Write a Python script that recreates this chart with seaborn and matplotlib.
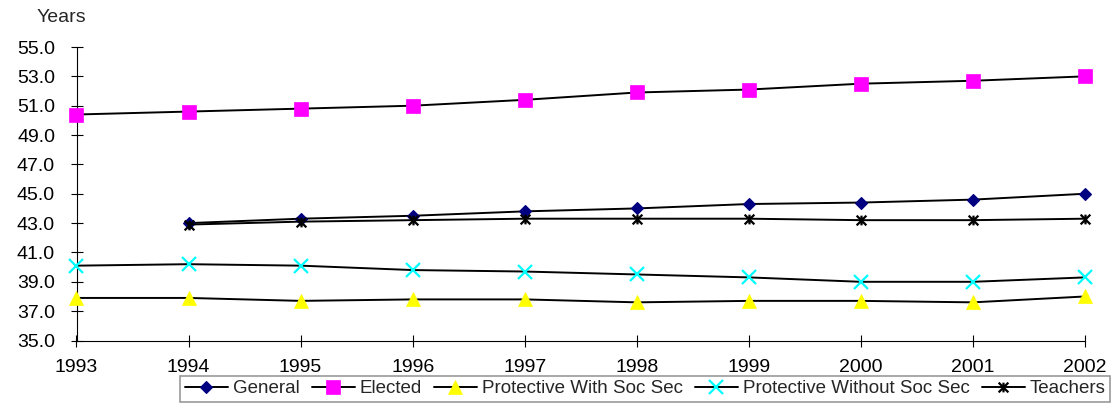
import numpy as np
import pandas as pd
import matplotlib
matplotlib.use("Agg")
import matplotlib.pyplot as plt
from matplotlib.path import Path
import seaborn as sns

years = [1993, 1994, 1995, 1996, 1997, 1998, 1999, 2000, 2001, 2002]
general = [np.nan, 43.0, 43.3, 43.5, 43.8, 44.0, 44.3, 44.4, 44.6, 45.0]
elected = [50.4, 50.6, 50.8, 51.0, 51.4, 51.9, 52.1, 52.5, 52.7, 53.0]
prot_with = [37.9, 37.9, 37.7, 37.8, 37.8, 37.6, 37.7, 37.7, 37.6, 38.0]
prot_without = [40.1, 40.2, 40.1, 39.8, 39.7, 39.5, 39.3, 39.0, 39.0, 39.3]
teachers = [np.nan, 42.9, 43.1, 43.2, 43.3, 43.3, 43.3, 43.2, 43.2, 43.3]
series_names = ["General", "Elected", "Protective With Soc Sec",
                "Protective Without Soc Sec", "Teachers"]
y_ticks = [35.0, 37.0, 39.0, 41.0, 43.0, 45.0, 47.0, 49.0, 51.0, 53.0, 55.0]

df = pd.DataFrame({"Year": years, "General": general, "Elected": elected,
                   "Protective With Soc Sec": prot_with,
                   "Protective Without Soc Sec": prot_without,
                   "Teachers": teachers})

sns.set_style("white")
plt.rcParams["font.family"] = ["Liberation Sans", "DejaVu Sans"]

W, H = 1111, 404
fig = plt.figure(figsize=(W / 100, H / 100), dpi=100)
ax = fig.add_axes([76.5 / W, 1 - 340.5 / H, (1085 - 76.5) / W, (340.5 - 47) / H])

asterisk = Path([(-1, -1), (1, 1), (-1, 1), (1, -1), (0, -1), (0, 1)],
                [Path.MOVETO, Path.LINETO, Path.MOVETO, Path.LINETO,
                 Path.MOVETO, Path.LINETO])

styles = {
    "General": dict(marker="D", markersize=6.6, markerfacecolor="#000080",
                    markeredgecolor="#000080", markeredgewidth=0.8),
    "Elected": dict(marker="s", markersize=9.5, markerfacecolor="#FF00FF",
                    markeredgecolor="#FF00FF", markeredgewidth=0.5),
    "Protective With Soc Sec": dict(marker="^", markersize=10, markerfacecolor="#FFFF00",
                                    markeredgecolor="#FFFF00", markeredgewidth=0.5),
    "Protective Without Soc Sec": dict(marker="x", markersize=10, markerfacecolor="#00FFFF",
                                       markeredgecolor="#00FFFF", markeredgewidth=1.6),
    "Teachers": dict(marker=asterisk, markersize=7, markerfacecolor="none",
                     markeredgecolor="black", markeredgewidth=1.6),
}

for name in series_names:
    sub = df[["Year", name]].dropna()
    sns.lineplot(data=sub, x="Year", y=name, ax=ax, color="black", linewidth=1.4,
                 label=name, clip_on=False, zorder=3, **styles[name])

ax.set_xlim(1993, 2002)
ax.set_ylim(35, 55)
ax.set_xticks(years)
ax.set_xticklabels([str(y) for y in years])
ax.set_yticks(y_ticks)
ax.set_yticklabels([f"{v:.1f}" for v in y_ticks])
ax.set_xlabel("")
ax.set_ylabel("")
for s in ["top", "right"]:
    ax.spines[s].set_visible(False)
for s in ["left", "bottom"]:
    ax.spines[s].set_color("black")
    ax.spines[s].set_linewidth(0.8)
ax.tick_params(axis="both", direction="inout", length=8.3, width=0.8, colors="black",
               labelsize=14, bottom=True, left=True)
ax.tick_params(axis="y", pad=11.3)
ax.tick_params(axis="x", pad=9)
ax.grid(False)

fig.text(37 / W, 1 - 18 / H, "Years", fontsize=14, va="center", ha="left")

leg = ax.legend(loc="lower right", bbox_to_anchor=(1110 / W, 2 / H),
                bbox_transform=fig.transFigure, ncol=5, fontsize=13.5, frameon=True,
                fancybox=False, borderpad=0.25, handlelength=2.3, handletextpad=0.25,
                columnspacing=0.65, borderaxespad=0)
leg.get_frame().set_edgecolor("#808080")
leg.get_frame().set_linewidth(1.2)

fig.savefig("out.png", dpi=100)
